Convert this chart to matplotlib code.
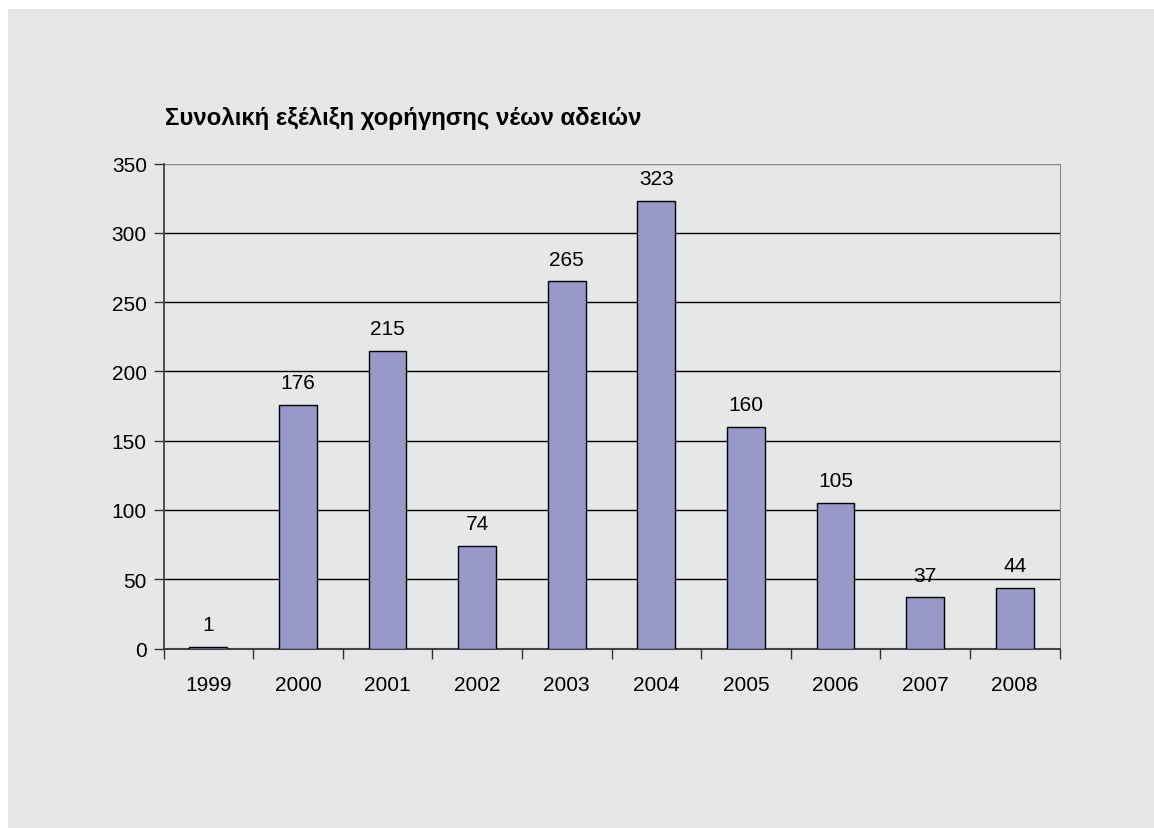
import matplotlib
matplotlib.use("Agg")
import matplotlib.pyplot as plt
from matplotlib.patches import Rectangle

years = ['1999', '2000', '2001', '2002', '2003', '2004', '2005', '2006', '2007', '2008']
licences = [1, 176, 215, 74, 265, 323, 160, 105, 37, 44]
title = 'Συνολική εξέλιξη χορήγησης νέων αδειών'

bg = '#e6e7e9'
bar_color = '#9898c9'

plt.rcParams['font.family'] = ['Liberation Sans', 'DejaVu Sans']

fig = plt.figure(figsize=(11.54, 8.29), dpi=100, facecolor='white')
# gray panel with thin white strip at top and left
fig.patches.append(Rectangle((8 / 1154, -0.01), 1.1, 1.01 - 10 / 829, transform=fig.transFigure,
                             facecolor=bg, edgecolor='none', zorder=-10))

ax = fig.add_axes([163.5 / 1154, 1 - 649.5 / 829, (1059.5 - 163.5) / 1154, (649.5 - 164.5) / 829])
ax.set_facecolor(bg)

x = range(len(years))
bars = ax.bar(x, licences, width=0.42, color=bar_color, edgecolor='black', linewidth=1.0, zorder=3)

for b, v in zip(bars, licences):
    ax.annotate(str(v), (b.get_x() + b.get_width() / 2, v), xytext=(0, 12),
                textcoords='offset points', ha='center', va='baseline', fontsize=15)

ax.set_xlim(-0.5, len(years) - 0.5)
ax.set_ylim(0, 350)
ax.set_yticks(range(0, 351, 50))
ax.yaxis.grid(True, color='black', linewidth=1.0, zorder=1)
ax.set_axisbelow(True)
ax.get_ygridlines()[-1].set_color('#888888')

ax.set_xticks(list(x))
ax.set_xticklabels(years, fontsize=15)
ax.set_xticks([i - 0.5 for i in range(len(years) + 1)], minor=True)
ax.tick_params(axis='x', which='major', length=0, pad=19)
ax.tick_params(axis='x', which='minor', length=7, width=1, color='#333333')
ax.tick_params(axis='y', length=7, width=1, color='#333333', labelsize=15, pad=5)

ax.spines['top'].set_visible(False)
ax.spines['right'].set_color('#888888')
ax.spines['left'].set_color('#444444')
ax.spines['bottom'].set_color('#444444')
ax.spines['left'].set_linewidth(1.3)
ax.spines['bottom'].set_linewidth(1.5)

fig.text(165 / 1154, 1 - 125 / 829, title, fontsize=17.3, fontweight='bold',
         ha='left', va='baseline')

fig.savefig('out.png', dpi=100, facecolor=fig.get_facecolor())
